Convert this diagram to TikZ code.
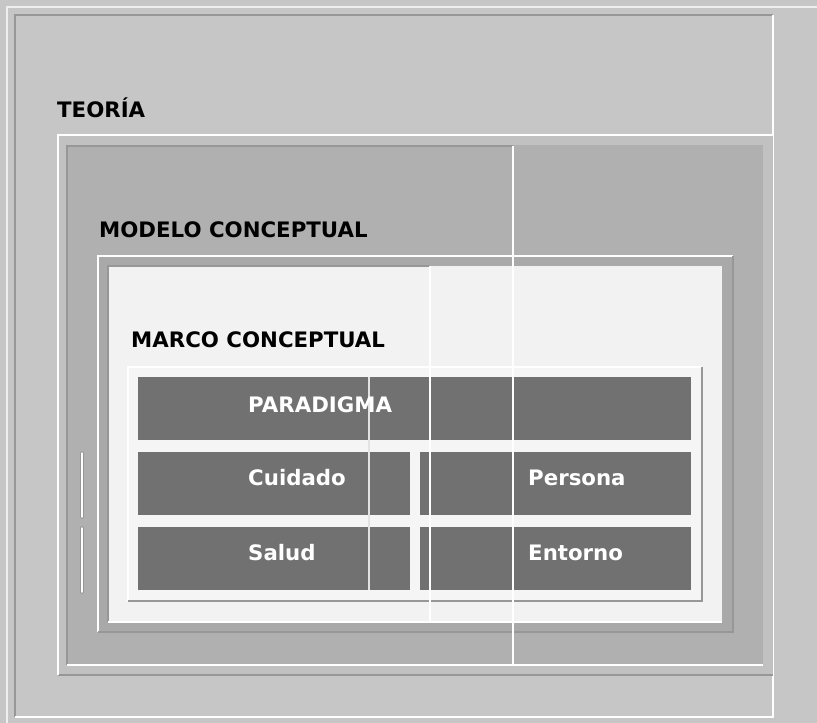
\documentclass[tikz,border=0pt]{standalone}
\usepackage{fontspec}
\setmainfont{DejaVu Sans}
\definecolor{bgc}{HTML}{C6C6C6}
\definecolor{bandc}{HTML}{C1C1C1}
\definecolor{midc}{HTML}{B0B0B0}
\definecolor{modc}{HTML}{A9A9A9}
\definecolor{paper}{HTML}{F2F2F2}
\definecolor{gridc}{HTML}{F5F5F5}
\definecolor{cellc}{HTML}{717171}
\definecolor{edgec}{HTML}{979797}
\begin{document}
\begin{tikzpicture}[x=1pt,y=-1pt,
  lbl/.style={font=\fontsize{21.3}{25}\selectfont\bfseries, anchor=base west, inner sep=0pt, text=black},
  celltxt/.style={lbl, text=white},
  hi/.style={draw=white, line width=1.5pt},
  lo/.style={draw=edgec, line width=1.5pt},
  cellbox/.style={fill=cellc}]
\useasboundingbox (0,0) rectangle (817,723);
\fill[bgc] (0,0) rectangle (817,723);
% outer frame
\draw[white!70!bgc, line width=1.5pt] (7,723) -- (7,7) -- (817,7);
\draw[lo] (15,717) -- (15,15) -- (773,15);
\draw[hi] (773,15) -- (773,717) -- (15,717);
% teoria inner area
\fill[bandc] (58,135) rectangle (773,675);
\draw[lo] (58,675) -- (773,675);
\draw[hi] (58,675) -- (58,135) -- (773,135);
\fill[midc] (66,145) rectangle (763,665);
\draw[lo] (67,665) -- (67,146) -- (513,146);
\draw[hi] (67,665) -- (763,665);
% modelo area
\fill[modc] (98,256) rectangle (733,632);
\draw[hi] (98,632) -- (98,256) -- (733,256);
\draw[lo] (733,256) -- (733,632) -- (98,632);
\fill[paper] (108,266) rectangle (722,622);
\draw[lo] (108,622) -- (108,266) -- (430,266);
\draw[hi] (108,622) -- (722,622);
% grid box
\fill[gridc] (128,367) rectangle (702,601);
\draw[hi] (128,601) -- (128,367) -- (702,367);
\draw[lo] (702,367) -- (702,601) -- (128,601);
% cells
\fill[cellbox] (138,377) rectangle (691,440);
\fill[cellbox] (138,452) rectangle (410,515);
\fill[cellbox] (420,452) rectangle (691,515);
\fill[cellbox] (138,527) rectangle (410,590);
\fill[cellbox] (420,527) rectangle (691,590);
% crossing lines
\draw[white!80!cellc, line width=1.2pt] (369,377) -- (369,590);
\draw[hi] (430,266) -- (430,622);
\draw[hi] (513,146) -- (513,665);
% small left marks
\draw[edgec, line width=3.5pt, line cap=round] (82,453) -- (82,517);
\draw[edgec, line width=3.5pt, line cap=round] (82,528) -- (82,592);
\draw[white, line width=1.5pt, line cap=round] (82,453) -- (82,517);
\draw[white, line width=1.5pt, line cap=round] (82,528) -- (82,592);
% labels
\node[lbl] (teoria) at (57,117) {TEORÍA};
\node[lbl] (modelo) at (99,237) {MODELO CONCEPTUAL};
\node[lbl] (marco) at (131,347) {MARCO CONCEPTUAL};
\node[celltxt] (paradigma) at (248,412) {PARADIGMA};
\node[celltxt] (cuidado) at (248,485) {Cuidado};
\node[celltxt] (persona) at (528,485) {Persona};
\node[celltxt] (salud) at (248,560) {Salud};
\node[celltxt] (entorno) at (528,560) {Entorno};
\end{tikzpicture}
\end{document}
